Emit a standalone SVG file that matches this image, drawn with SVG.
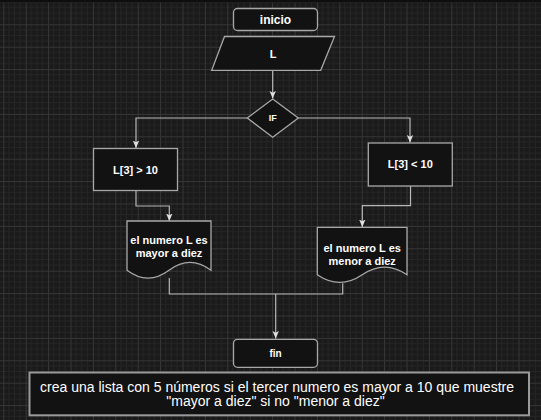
<svg xmlns="http://www.w3.org/2000/svg" width="541" height="420" viewBox="0 0 541 420">
<defs>
<pattern id="grid" patternUnits="userSpaceOnUse" x="3.3" y="1.9" width="22.4" height="22.4">
<rect width="22.4" height="22.4" fill="#1a1a1a"/>
<path d="M5.6,0V22.4M11.2,0V22.4M16.8,0V22.4M0,5.6H22.4M0,11.2H22.4M0,16.8H22.4" stroke="#252525" stroke-width="1" fill="none"/>
<path d="M0.5,0V22.4M0,0.5H22.4" stroke="#363636" stroke-width="1" fill="none"/>
</pattern>
<marker id="arr" markerUnits="userSpaceOnUse" viewBox="0 0 8 8" refX="7.5" refY="4" markerWidth="8" markerHeight="8" orient="auto">
<path d="M0,0.8 L7.5,4 L0,7.2 L1.8,4 Z" fill="#e0e0e0"/>
</marker>
</defs>
<style>
.node{fill:#121212;stroke:#a8a8a8;stroke-width:1.3}
.lbl{font-family:"Liberation Sans",Arial,sans-serif;font-weight:bold;fill:#ffffff;text-anchor:middle}
.edge{fill:none;stroke:#b8b8b8;stroke-width:1.2}
.arrow{marker-end:url(#arr)}
</style>
<rect width="541" height="420" fill="url(#grid)"/>
<rect width="541" height="2.5" fill="#0e0e0e"/>

<g id="connectors">
<path class="edge arrow" d="M272.7,70.5V98.5"/>
<path class="edge arrow" d="M247.3,118H136V148"/>
<path class="edge arrow" d="M298.3,118H410V142.5"/>
<path class="edge arrow" d="M136,191V206H169.3V221"/>
<path class="edge arrow" d="M410.5,186V205.7H362.3V227"/>
<path class="edge" d="M169.3,278V294H342.7V283.3"/>
<path class="edge arrow" d="M275.7,294V338.5"/>
</g>

<g id="inicio">
<rect class="node" x="233.5" y="8.5" width="84" height="22" rx="4"/>
<text class="lbl" x="275.5" y="23.5" font-size="12">inicio</text>
</g>

<g id="L">
<polygon class="node" points="224.5,36.5 334.5,36.5 320.7,70.3 211.7,70.3"/>
<text class="lbl" x="273" y="57.5" font-size="11">L</text>
</g>

<g id="if">
<polygon class="node" points="272.7,99 298.3,118 272.7,137.3 247.3,118"/>
<text class="lbl" x="272.7" y="120.5" font-size="9">IF</text>
</g>

<g id="mayor">
<rect class="node" x="93.5" y="148.5" width="84" height="42"/>
<text class="lbl" x="135.5" y="174" font-size="11">L[3] &gt; 10</text>
</g>

<g id="menor">
<rect class="node" x="368.3" y="143" width="84" height="43"/>
<text class="lbl" x="410.3" y="168" font-size="11">L[3] &lt; 10</text>
</g>

<g id="doc-mayor">
<path class="node" d="M127,221H211V270.3Q190,254.6 169,270.3Q148,286 127,270.3Z"/>
<text class="lbl" x="169" y="244" font-size="11">el numero L es</text>
<text class="lbl" x="169" y="257" font-size="11">mayor a diez</text>
</g>

<g id="doc-menor">
<path class="node" d="M317.3,227.3H407V274.8Q384.6,259.5 362.2,274.8Q339.8,290.1 317.3,274.8Z"/>
<text class="lbl" x="362.2" y="251.5" font-size="11">el numero L es</text>
<text class="lbl" x="362.2" y="264.5" font-size="11">menor a diez</text>
</g>

<g id="fin">
<rect class="node" x="233.5" y="339.3" width="84" height="28" rx="4"/>
<text class="lbl" x="275.5" y="357" font-size="10">fin</text>
</g>

<g id="nota">
<rect x="29.5" y="372.5" width="499.5" height="42.8" fill="#121212" stroke="#9a9a9a" stroke-width="2"/>
<text font-family="'Liberation Sans',Arial,sans-serif" font-size="14" fill="#ffffff" text-anchor="middle">
<tspan x="279" y="391.5">crea una lista con 5 números si el tercer numero es mayor a 10 que muestre</tspan>
<tspan x="275.5" y="406">"mayor a diez" si no "menor a diez"</tspan>
</text>
</g>
</svg>
